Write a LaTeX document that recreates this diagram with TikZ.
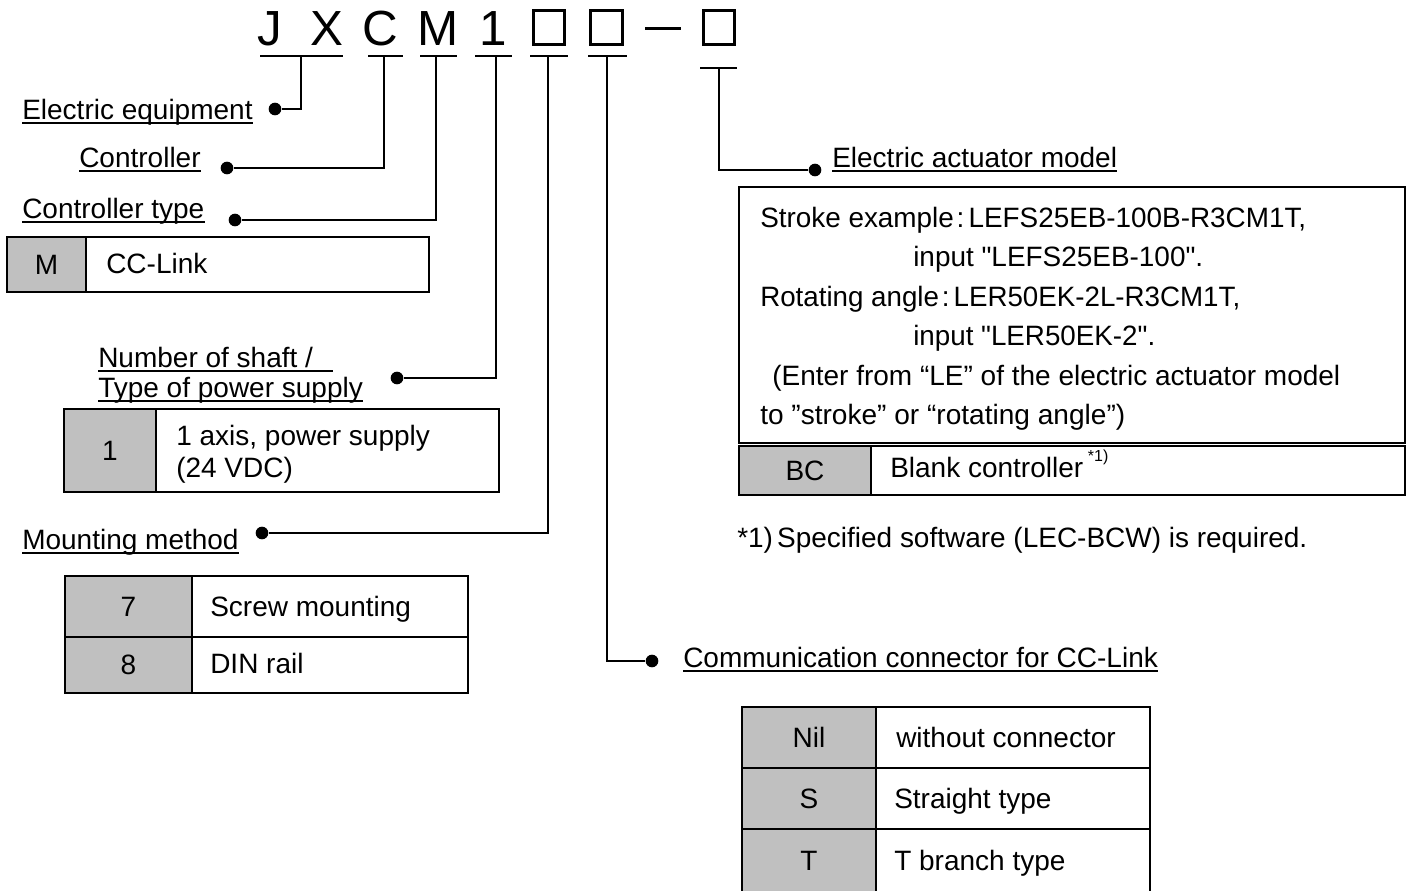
\documentclass[tikz,border=0pt]{standalone}
\usepackage{fontspec}
\setmainfont{Liberation Sans}
\newfontfamily\plainfont{Liberation Sans}
\usepackage{graphicx}
\definecolor{keygray}{HTML}{C0C0C0}
\newcommand\fs{\fontsize{21pt}{25pt}\selectfont}
\newcommand\sq{{\plainfont\symbol{34}}}
\newlength\fitlen
\newcommand\fitto[2]{\settowidth\fitlen{#2}\pgfmathsetmacro\fitf{#1/\fitlen}\scalebox{\fitf}[1]{#2}}
\newcommand\cellbox[7]{%
  \node[#1,minimum width={(#5-#3)*0.75pt},minimum height={(#6-#4)*0.75pt}] (#2) at ({(#3+#5)/2},{(#4+#6)/2}) {#7};}
\newcommand\ulin[1]{\draw[uline] ([yshift=-3pt]#1.base west) -- ([yshift=-3pt]#1.base east);}
\tikzset{
  cellst/.style={draw,line width=1.1pt,inner sep=0pt,outer sep=0pt,font=\fs},
  keycell/.style={cellst,fill=keygray},
  valcell/.style={cellst,fill=white},
  lbl/.style={anchor=base west,inner sep=0pt,font=\fs},
  dotnode/.style={circle,fill=black,inner sep=0pt,minimum size=9.5pt},
  conn/.style={line width=1.5pt},
  uline/.style={line width=1.5pt},
  ttl/.style={anchor=base,inner sep=0pt,font=\fontsize{37pt}{40pt}\selectfont},
  sqbox/.style={draw,line width=2.3pt,inner sep=0pt,minimum width=23.5pt,minimum height=25pt},
}
\begin{document}
\begin{tikzpicture}[x=0.75pt,y=-0.75pt]
\useasboundingbox (0,0) rectangle (1413,890);
% ---- title ----
\node[ttl] (tJ) at (270,45) {J};
\node[ttl] (tX) at (327,45) {X};
\node[ttl] (tC) at (380,45) {C};
\node[ttl] (tM) at (438.5,45) {M};
\node[ttl] (t1) at (493,45) {1};
\node[sqbox] (sq1) at (549,27.5) {};
\node[sqbox] (sq2) at (606.5,27.5) {};
\node[fill=black,inner sep=0pt,minimum width=27pt,minimum height=2.3pt] (dash) at (663,28.5) {};
\node[sqbox] (sq3) at (719,27.5) {};
\foreach \a/\b/\yy in {260/343/56, 368/403/56, 420/457/56, 475/512/56, 530/568/56, 588/627/56, 700/737/68}
  \draw[uline] (\a,\yy) -- (\b,\yy);
\coordinate (bJX) at (301,56);
\coordinate (bC) at (384,56);
\coordinate (bM) at (436,56);
\coordinate (b1) at (496,56);
\coordinate (bS1) at (548,56);
\coordinate (bS2) at (607,56);
\coordinate (bS3) at (719,68);
% ---- labels and dots ----
\node[lbl] (lEE) at (22,119) {Electric equipment}; \ulin{lEE}
\node[dotnode] (dEE) at (275,109) {};
\node[lbl] (lCo) at (79,167) {Controller}; \ulin{lCo}
\node[dotnode] (dCo) at (227,168) {};
\node[lbl] (lCT) at (22,218) {Controller type}; \ulin{lCT}
\node[dotnode] (dCT) at (235,220) {};
\node[lbl] (lNS) at (98,367) {Number of shaft /\kern0.7em}; \ulin{lNS}
\node[lbl] (lPS) at (98,397) {Type of power supply}; \ulin{lPS}
\node[dotnode] (dNS) at (397,378) {};
\node[lbl] (lMM) at (22,549) {Mounting method}; \ulin{lMM}
\node[dotnode] (dMM) at (262,533) {};
\node[lbl] (lEA) at (832,167) {Electric actuator model}; \ulin{lEA}
\node[dotnode] (dEA) at (815,170) {};
\node[lbl] (lCC) at (683,667) {Communication connector for CC-Link}; \ulin{lCC}
\node[dotnode] (dCC) at (652,661) {};
% ---- connectors ----
\draw[conn] (bJX) |- (dEE);
\draw[conn] (bC) |- (dCo);
\draw[conn] (bM) |- (dCT);
\draw[conn] (b1) |- (dNS);
\draw[conn] (bS1) |- (dMM);
\draw[conn] (bS3) |- (dEA);
\draw[conn] (bS2) |- (dCC);
% ---- controller type table ----
\cellbox{keycell}{kM}{7}{237}{86}{292}{M}
\cellbox{valcell}{vM}{86}{237}{429}{292}{}
\node[lbl] (xM) at (106,273) {CC-Link};
% ---- shaft table ----
\cellbox{keycell}{k1}{64}{409}{156}{492}{1}
\cellbox{valcell}{v1}{156}{409}{499}{492}{}
\node[lbl] (x1a) at (176,445) {1 axis, power supply};
\node[lbl] (x1b) at (176,477) {(24 VDC)};
% ---- mounting table ----
\cellbox{keycell}{k7}{65}{576}{192}{637}{7}
\cellbox{valcell}{v7}{192}{576}{468}{637}{}
\node[lbl] (x7) at (210,616) {Screw mounting};
\cellbox{keycell}{k8}{65}{637}{192}{693}{8}
\cellbox{valcell}{v8}{192}{637}{468}{693}{}
\node[lbl] (x8) at (210,673) {DIN rail};
% ---- actuator box ----
\cellbox{valcell}{vEA}{739}{187}{1405}{443}{}
\node[lbl] (a1) at (760,227) {\fitto{409.5}{Stroke example\hspace{0.1em}:\hspace{0.15em}LEFS25EB-100B-R3CM1T,}};
\node[lbl] (a2) at (913,266) {\fitto{217.5}{input \sq LEFS25EB-100\sq.}};
\node[lbl] (a3) at (760,306) {\fitto{360}{Rotating angle\hspace{0.1em}:\hspace{0.15em}LER50EK-2L-R3CM1T,}};
\node[lbl] (a4) at (913,345) {\fitto{181.5}{input \sq LER50EK-2\sq.}};
\node[lbl] (a5) at (772,385) {\fitto{426}{(Enter from “LE” of the electric actuator model}};
\node[lbl] (a6) at (760,424) {\fitto{273.75}{to ”stroke” or “rotating angle”)}};
\cellbox{keycell}{kBC}{739}{446}{871}{495}{BC}
\cellbox{valcell}{vBC}{871}{446}{1405}{495}{}
\node[lbl] (xBC) at (890,477) {Blank controller\,\raisebox{0.55em}{\fontsize{12pt}{14pt}\selectfont *1)}};
\node[lbl] (fn) at (737,547) {\fitto{427.5}{*1)\hspace{0.15em}Specified software (LEC-BCW) is required.}};
% ---- communication connector table ----
\cellbox{keycell}{kNil}{742}{707}{876}{768}{Nil}
\cellbox{valcell}{vNil}{876}{707}{1150}{768}{}
\node[lbl] (xNil) at (896,747) {without connector};
\cellbox{keycell}{kS}{742}{768}{876}{829}{S}
\cellbox{valcell}{vS}{876}{768}{1150}{829}{}
\node[lbl] (xS) at (894,808) {Straight type};
\cellbox{keycell}{kT}{742}{829}{876}{893}{T}
\cellbox{valcell}{vT}{876}{829}{1150}{893}{}
\node[lbl] (xT) at (894,870) {T branch type};
\end{tikzpicture}
\end{document}
